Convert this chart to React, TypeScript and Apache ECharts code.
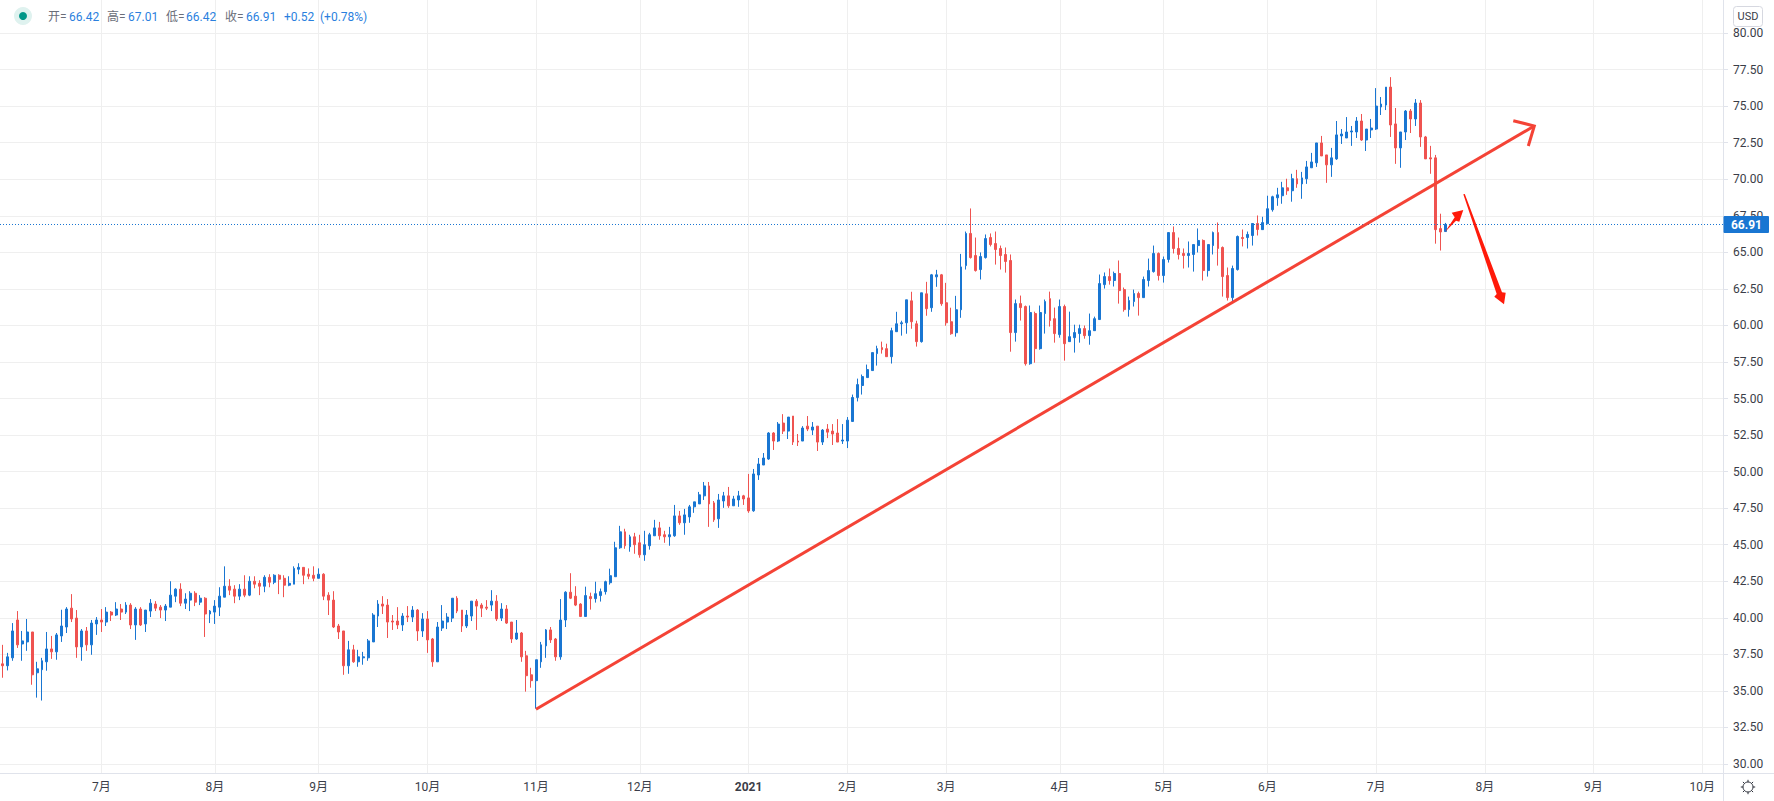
import React, { useEffect, useRef } from "react";
import * as echarts from "echarts";

// [open, close, low, high]
const candles2020A: number[][] = [
[36.85,36.72,35.90,38.15],[36.72,37.33,36.40,37.60],[37.26,39.10,37.06,39.64],[39.85,38.15,37.94,40.46],[38.21,38.42,37.06,39.10],
[38.35,39.03,37.74,39.92],[39.03,36.10,35.42,39.03],[36.24,36.51,34.54,36.99],[36.45,37.06,34.34,37.26],[36.99,37.87,36.38,39.03],
[37.87,37.67,37.19,38.76],[37.67,38.83,37.13,38.96],[38.76,39.44,38.35,40.55],[39.37,40.60,38.96,40.73],[40.66,39.92,39.71,41.62],
[39.98,38.01,37.26,40.53],[38.01,39.10,37.06,39.23],[39.10,38.15,37.74,39.37],[38.15,39.64,37.47,39.85],[39.58,39.85,38.83,40.05],
[39.85,39.71,39.03,40.60],[39.71,40.39,39.44,40.73],[40.39,40.19,39.78,40.46],[40.19,40.60,40.12,41.07],[40.60,40.39,39.85,40.94],
[40.39,40.87,40.26,41.07],[40.87,39.51,39.23,41.00],[39.51,40.60,38.49,40.73],[40.60,39.51,39.44,40.73],[39.58,40.53,39.03,40.53],
[40.46,41.00,40.05,41.28],[40.94,40.66,40.46,41.14],[40.73,40.53,39.98,40.87],[40.53,40.80,39.78,40.94],[40.73,41.55,40.73,42.50],
[41.48,41.96,41.07,42.02],[41.96,41.00,40.80,42.36],[41.00,41.28,40.60,41.68],[41.21,41.68,40.46,41.82],[41.68,41.07,40.80,41.82],
[41.07,41.34,40.87,41.55],[41.34,40.26,38.69,41.41],[40.26,40.46,39.64,40.53],[40.39,40.80,39.58,41.21],[40.73,41.48,40.12,42.09],
[41.41,42.16,41.41,43.52],[42.16,41.89,41.55,42.64],[41.96,41.48,41.00,42.23],[41.48,41.96,41.21,42.30],[41.96,41.55,41.41,42.91],
[41.55,42.50,41.48,42.84],[42.50,42.30,42.02,42.84],[42.36,42.16,41.55,42.57],[42.16,42.77,41.75,42.91],[42.77,42.43,42.09,42.98],
[42.43,42.91,42.30,42.98],[42.91,42.64,41.62,42.98],[42.70,42.23,41.41,42.91],[42.23,42.36,42.16,42.84],[42.30,43.38,42.30,43.52],
[43.32,43.45,42.98,43.73],[43.45,42.91,42.30,43.45],[42.98,42.84,42.64,43.38],[42.91,42.70,42.50,43.52],[42.70,42.98,42.70,43.38],
[42.98,41.48,41.21,43.05],[41.55,41.21,40.19,41.75],[41.21,39.37,39.30,41.82],[39.44,39.03,38.55,39.58],[39.10,36.72,36.10,39.10],
[36.72,37.81,36.17,38.42],[37.81,36.99,36.92,38.15],[36.99,37.33,36.65,37.81],[37.26,37.33,36.79,37.67],[37.26,38.42,37.06,38.55],
[38.35,40.19,38.35,40.32],[40.12,40.94,39.37,41.21],[40.94,40.80,40.26,41.48],[40.87,39.71,38.62,41.28],[39.78,39.71,39.17,40.19],
[39.78,39.51,39.23,40.73],[39.51,40.12,39.10,40.32],[40.12,40.05,39.71,40.80],[40.05,40.53,39.71,40.80],[40.53,39.10,38.42,40.60],
[39.10,39.92,38.69,40.32],[39.92,38.49,37.60,40.46],[38.55,36.99,36.65,38.62],[36.99,39.37,36.99,39.71],[39.30,39.78,39.10,40.87],
[39.71,40.05,39.23,40.32],[39.98,41.34,39.71,41.34],[41.34,40.46,40.32,41.48],[40.53,39.44,39.03,40.53],[39.44,40.19,39.30,40.53],
[40.12,41.14,39.78,41.14],[41.14,40.80,39.17,41.28],[40.87,40.66,40.05,41.00],[40.73,40.66,40.53,41.21],[40.87,41.14,40.46,41.89],
[41.14,39.92,39.78,41.55],[39.98,40.60,39.78,41.00],[40.60,39.64,39.58,40.87],[39.71,38.55,38.28,39.71],[38.55,38.96,38.49,39.85],
[38.96,37.33,36.99,39.03],[37.40,36.04,34.95,37.74],[36.10,35.70,35.22,36.58],
];
const candles2020B: number[][] = [
[35.70,37.13,33.79,37.13],[36.99,38.15,36.58,38.35],[38.08,39.17,37.26,39.23],[39.17,38.49,38.28,39.37],[38.55,37.33,37.06,38.62],
[37.33,39.85,37.13,41.28],[39.85,41.75,39.37,41.82],[41.75,41.34,41.28,43.05],[41.48,40.87,40.80,42.16],[40.94,40.09,40.05,41.00],
[40.09,41.52,40.09,42.13],[41.45,41.31,40.56,41.72],[41.31,41.65,41.04,42.47],[41.52,41.79,41.11,42.00],[41.79,42.47,41.59,42.54],
[42.40,42.88,42.27,43.36],[42.81,44.79,42.81,45.20],[44.79,45.88,44.72,46.29],[45.88,44.93,44.72,46.09],[44.86,45.54,44.52,45.68],
[45.54,45.00,44.38,45.81],[45.13,44.31,44.11,45.68],[44.31,45.00,43.90,45.95],[44.93,45.68,44.66,45.81],[45.61,46.15,45.61,46.70],
[46.15,45.61,45.34,46.56],[45.68,45.54,45.13,45.95],[45.54,45.68,44.93,46.22],[45.61,46.97,45.54,47.72],[46.97,46.50,46.36,47.31],
[46.50,47.04,45.68,47.45],[46.90,47.59,46.50,47.72],[47.59,47.93,47.18,47.93],[47.79,48.41,47.79,48.61],[48.34,49.02,48.06,49.29],
[49.02,47.79,46.22,49.29],[47.86,46.70,46.56,47.99],[46.77,48.06,46.15,48.47],[47.99,48.34,47.52,48.61],[48.34,47.66,47.52,48.95],
[47.66,48.13,47.66,48.34],[48.06,48.34,47.59,48.68],[48.34,48.13,47.72,48.41],
];
const candles2021A: number[][] = [
[48.20,47.31,47.18,49.84],[47.32,49.84,47.25,50.18],[49.77,50.52,49.43,50.93],[50.45,50.93,50.45,51.27],[50.86,52.64,50.80,52.70],
[52.64,52.09,51.48,52.70],[52.09,53.25,52.02,53.39],[53.32,52.77,52.57,53.93],[52.77,53.73,52.23,53.73],[53.80,52.02,51.82,53.80],
[52.09,52.02,51.75,52.57],[52.09,52.98,52.09,53.11],[53.11,52.91,52.77,53.80],[52.84,53.05,52.50,53.39],[53.11,52.02,51.41,53.11],
[52.02,52.84,51.82,52.91],[52.91,52.70,52.29,53.25],[52.77,52.57,51.82,53.25],[52.64,52.02,52.02,53.59],[52.09,52.16,51.89,53.25],
[52.09,53.52,51.61,53.73],[53.43,55.07,53.43,55.27],[55.07,55.95,54.80,56.36],[55.89,56.50,55.27,56.64],[56.43,56.98,56.43,57.32],
[56.91,58.14,56.91,58.14],[58.07,58.41,57.25,58.61],[58.48,58.34,58.07,58.89],[58.41,57.86,57.86,58.75],[57.86,59.64,57.39,59.84],
[59.57,60.11,59.57,60.93],[60.11,60.18,59.30,60.32],[60.18,61.75,59.43,61.75],[61.68,60.25,59.77,62.30],[60.11,58.89,58.55,60.32],
[58.89,62.23,58.82,62.23],[62.16,61.14,60.66,62.98],[61.21,63.46,60.93,63.52],[63.32,63.46,62.64,63.80],[63.46,61.48,61.34,63.52],
[61.55,60.18,59.98,62.91],[60.25,59.43,59.36,61.21],[59.50,61.07,59.23,62.02],[61.07,64.00,60.52,64.89],
];
const candles2021B: number[][] = [
[64.09,66.29,63.82,66.42],[66.29,64.64,64.57,68.00],[64.78,63.75,63.68,66.01],[63.82,64.71,63.14,64.99],[64.64,65.94,64.57,66.22],
[66.01,65.53,65.40,66.29],[65.60,65.19,64.16,66.42],[65.26,64.78,63.82,65.46],[64.85,64.37,63.61,65.33],[64.44,59.51,58.20,64.85],
[59.51,61.49,58.89,61.77],[61.49,61.22,60.33,62.04],[61.29,57.38,57.25,61.36],[57.38,60.88,57.31,61.36],[60.81,58.41,57.45,60.94],
[58.41,60.88,58.34,61.36],[60.81,61.63,59.44,61.77],[61.83,60.33,59.92,62.31],[60.46,59.44,58.82,61.22],[59.37,61.29,59.16,61.77],
[61.29,58.75,57.59,61.42],[58.89,59.23,58.89,60.94],[59.16,59.51,58.14,60.05],[59.44,59.78,58.82,60.05],[59.78,59.30,59.09,59.99],
[59.30,59.64,58.68,60.81],[59.64,60.46,59.64,60.60],[60.40,62.86,60.40,63.48],[62.79,63.34,62.52,63.62],[63.34,63.07,62.79,63.89],
[63.07,63.55,62.66,63.68],[63.55,62.38,61.49,64.44],[62.45,61.08,60.94,62.59],[61.08,61.70,60.60,61.97],[61.63,62.18,61.29,62.45],
[62.18,61.90,60.67,62.31],[61.90,63.14,61.90,63.34],[63.07,63.75,62.66,64.57],[63.68,64.92,63.61,65.46],[64.92,63.41,63.07,64.99],
[63.41,64.51,62.93,64.71],[64.51,66.35,64.30,66.35],[66.35,65.26,64.92,66.77],[65.26,64.85,64.51,66.01],[64.92,64.78,63.89,65.26],
[64.78,64.92,63.96,65.74],[64.85,65.53,63.68,65.53],[65.46,65.81,64.99,66.63],[65.81,63.75,63.07,65.88],[63.75,65.53,63.34,65.53],
[65.46,66.35,64.85,66.42],[66.35,65.26,64.09,67.04],[65.33,63.34,61.97,65.40],[63.41,61.90,61.70,63.96],[61.90,63.89,61.56,64.09],
[63.82,66.08,63.75,66.15],[66.01,65.94,65.40,66.56],[66.01,66.22,65.26,66.42],[66.15,66.97,65.46,66.97],[66.97,66.56,66.15,67.52],
];
const candles2021C: number[][] = [
[66.55,67.03,66.55,67.43],[66.96,67.98,66.96,68.87],[67.91,68.80,67.78,68.87],[68.73,68.93,68.18,69.41],[68.87,69.41,68.32,69.82],
[69.41,69.21,68.93,70.03],[69.21,70.03,68.46,70.37],[70.03,69.68,69.41,70.64],[69.68,70.09,68.66,70.50],[70.03,70.84,69.68,71.25],
[70.78,71.18,70.78,71.80],[71.12,72.48,70.84,72.48],[72.48,71.59,71.59,72.96],[71.66,70.98,69.75,71.66],[70.98,71.46,70.16,72.14],
[71.39,73.03,71.32,73.98],[72.96,73.09,72.41,73.43],[72.82,73.23,72.82,74.25],[73.23,73.30,72.28,73.64],[73.23,73.98,72.82,74.25],
[73.98,72.68,72.62,74.46],[72.68,73.43,71.93,73.43],[73.37,73.50,72.82,74.12],[73.43,75.00,73.37,76.23],[74.94,75.14,74.39,75.62],
[75.07,76.30,74.73,76.30],[76.30,73.71,72.89,76.98],[73.78,72.14,71.05,74.87],[72.14,73.23,70.78,73.23],[73.23,74.66,72.68,74.73],
[74.66,74.12,73.16,74.80],[74.12,75.21,73.64,75.48],[75.21,72.89,72.21,75.41],[72.89,71.39,71.39,72.96],[71.46,71.39,70.37,72.28],
[71.46,66.55,65.59,71.66],[66.62,66.39,65.12,67.64],[66.42,66.91,66.42,67.01],
];
const candles = [...candles2020A, ...candles2020B, ...candles2021A, ...candles2021B, ...candles2021C];

const monthSlots: [number, string][] = [
  [20, "7月"], [43, "8月"], [64, "9月"], [86, "10月"], [108, "11月"], [129, "12月"],
  [151, "2021"], [171, "2月"], [191, "3月"], [214, "4月"], [235, "5月"], [256, "6月"],
  [278, "7月"], [300, "8月"], [322, "9月"], [344, "10月"],
];
const slotCount = 349;
const categories: string[] = Array.from({ length: slotCount }, () => "");
monthSlots.forEach(([slot, label]) => { categories[slot] = label; });

const lastPrice = 66.91;

const headerTexts: [string, number, string][] = [
  ["开=", 48, "#6a6d78"], ["66.42", 69, "#2a7fde"],
  ["高=", 107, "#6a6d78"], ["67.01", 128, "#2a7fde"],
  ["低=", 166, "#6a6d78"], ["66.42", 186, "#2a7fde"],
  ["收=", 225, "#6a6d78"], ["66.91", 246, "#2a7fde"],
  ["+0.52", 284, "#2a7fde"], ["(+0.78%)", 320, "#2a7fde"],
];

// hand-drawn annotations, page pixels
const trendLine = [[536, 709.3], [1534.3, 126]];
const trendHead = [[1513.3, 120.7], [1534.3, 126], [1528.3, 146]];
const smallArrow = [[1445, 232], [1454.7, 217.3], [1451.7, 212.7], [1463.3, 210], [1459.3, 221.7], [1456, 220.7]];
const bigArrow = [[1463.3, 194.3], [1464.8, 194], [1502, 292.3], [1505.7, 292.7], [1504, 304.3], [1494.3, 296.7], [1496.7, 294]];

const FONT = 'Roboto, "Noto Sans CJK SC", sans-serif';
const GRID = "#efefef";
const AXIS = "#e0e3eb";
const TEXT = "#3a3d48";
const BLUE = "#1976d2";
const RED = "#ef5350";
const STEP = 4.945;
const LEFT = 1.1 - STEP / 2;
const WIDTH = STEP * slotCount;
const gearX = 1748;
const gearY = 787;

export default function App() {
  const ref = useRef<HTMLDivElement>(null);
  useEffect(() => {
    const chart = echarts.init(ref.current!, undefined, { renderer: "svg" });
    const isMonth = (_: number, v: string) => v !== "";
    const rays = [0, 1, 2, 3, 4, 5, 6, 7].map((k) => {
      const a = (k * Math.PI) / 4;
      return {
        type: "line",
        shape: {
          x1: gearX + Math.cos(a) * 5, y1: gearY + Math.sin(a) * 5,
          x2: gearX + Math.cos(a) * 7.2, y2: gearY + Math.sin(a) * 7.2,
        },
        style: { stroke: "#2a2e39", lineWidth: 1 },
      };
    });
    chart.setOption({
      animation: false,
      backgroundColor: "#ffffff",
      grid: [
        { left: LEFT, top: 33, width: WIDTH, height: 731 },
        { left: LEFT, top: 0, width: WIDTH, height: 773 },
      ],
      xAxis: [
        { type: "category", gridIndex: 0, data: categories, show: false },
        {
          type: "category", gridIndex: 1, data: categories, position: "bottom",
          axisLine: { lineStyle: { color: AXIS } },
          axisTick: { alignWithLabel: true, length: 3, interval: isMonth, lineStyle: { color: AXIS } },
          splitLine: { show: true, alignWithLabel: true, interval: isMonth, lineStyle: { color: GRID, width: 1 } },
          axisLabel: {
            interval: isMonth, margin: 8, color: TEXT, fontSize: 12, fontFamily: FONT,
            formatter: (v: string) => (v === "2021" ? "{b|2021}" : v),
            rich: { b: { fontWeight: "bold", fontSize: 12, color: TEXT, fontFamily: FONT } },
          },
        },
      ],
      yAxis: [
        {
          type: "value", gridIndex: 0, position: "right", min: 30, max: 80, interval: 2.5,
          offset: -1.4,
          axisLine: { show: false },
          axisTick: { show: true, length: 5, lineStyle: { color: AXIS } },
          splitLine: { show: true, lineStyle: { color: GRID, width: 1 } },
          axisLabel: { margin: 10, color: TEXT, fontSize: 12, fontFamily: FONT, formatter: (v: number) => v.toFixed(2) },
        },
        { type: "value", gridIndex: 1, show: false, splitLine: { show: false }, min: 0, max: 1 },
      ],
      series: [
        {
          type: "candlestick", xAxisIndex: 0, yAxisIndex: 0, data: candles, barWidth: 2.4,
          itemStyle: { color: BLUE, color0: RED, borderColor: BLUE, borderColor0: RED, borderWidth: 1 },
          markLine: {
            silent: true, symbol: "none", animation: false,
            label: { show: false },
            lineStyle: { color: BLUE, type: [1, 2], width: 1 },
            data: [{ yAxis: lastPrice }],
          },
        },
      ],
      graphic: [
        { type: "line", z: 50, shape: { x1: 1723.5, y1: 0, x2: 1723.5, y2: 801 }, style: { stroke: AXIS, lineWidth: 1 } },
        { type: "line", z: 50, shape: { x1: 1723, y1: 773.5, x2: 1774, y2: 773.5 }, style: { stroke: AXIS, lineWidth: 1 } },
        { type: "polyline", z: 60, shape: { points: trendLine }, style: { stroke: "#f44336", lineWidth: 3, fill: "none" } },
        { type: "polyline", z: 60, shape: { points: trendHead }, style: { stroke: "#f44336", lineWidth: 3, fill: "none" } },
        { type: "polygon", z: 60, shape: { points: smallArrow }, style: { fill: "#ff1a0a" } },
        { type: "polygon", z: 60, shape: { points: bigArrow }, style: { fill: "#ff1a0a" } },
        { type: "circle", z: 70, shape: { cx: 23, cy: 16, r: 9 }, style: { fill: "#dff2ef" } },
        { type: "circle", z: 71, shape: { cx: 23, cy: 16, r: 4 }, style: { fill: "#009688" } },
        ...headerTexts.map(([t, x, c]) => ({
          type: "text", z: 70,
          style: { text: t, x, y: 17, fill: c, font: `12px ${FONT}`, textAlign: "left", textVerticalAlign: "middle" },
        })),
        { type: "rect", z: 70, shape: { x: 1723.5, y: 216, width: 45.5, height: 17, r: 1 }, style: { fill: BLUE } },
        {
          type: "text", z: 71,
          style: { text: "66.91", x: 1746.5, y: 224.8, fill: "#ffffff", font: `bold 12px ${FONT}`, textAlign: "center", textVerticalAlign: "middle" },
        },
        { type: "rect", z: 70, shape: { x: 1733.5, y: 6.5, width: 29, height: 20, r: 3 }, style: { fill: "#ffffff", stroke: "#d6d8e0", lineWidth: 1 } },
        {
          type: "text", z: 71,
          style: { text: "USD", x: 1748, y: 16.5, fill: TEXT, font: `11px ${FONT}`, textAlign: "center", textVerticalAlign: "middle" },
        },
        { type: "circle", z: 70, shape: { cx: gearX, cy: gearY, r: 5 }, style: { fill: "#ffffff", stroke: "#2a2e39", lineWidth: 1 } },
        ...rays.map((r) => ({ ...r, z: 70 })),
      ],
    });
    return () => chart.dispose();
  }, []);
  return <div ref={ref} style={{ position: "absolute", left: 0, top: 0, width: 1774, height: 801 }} />;
}
